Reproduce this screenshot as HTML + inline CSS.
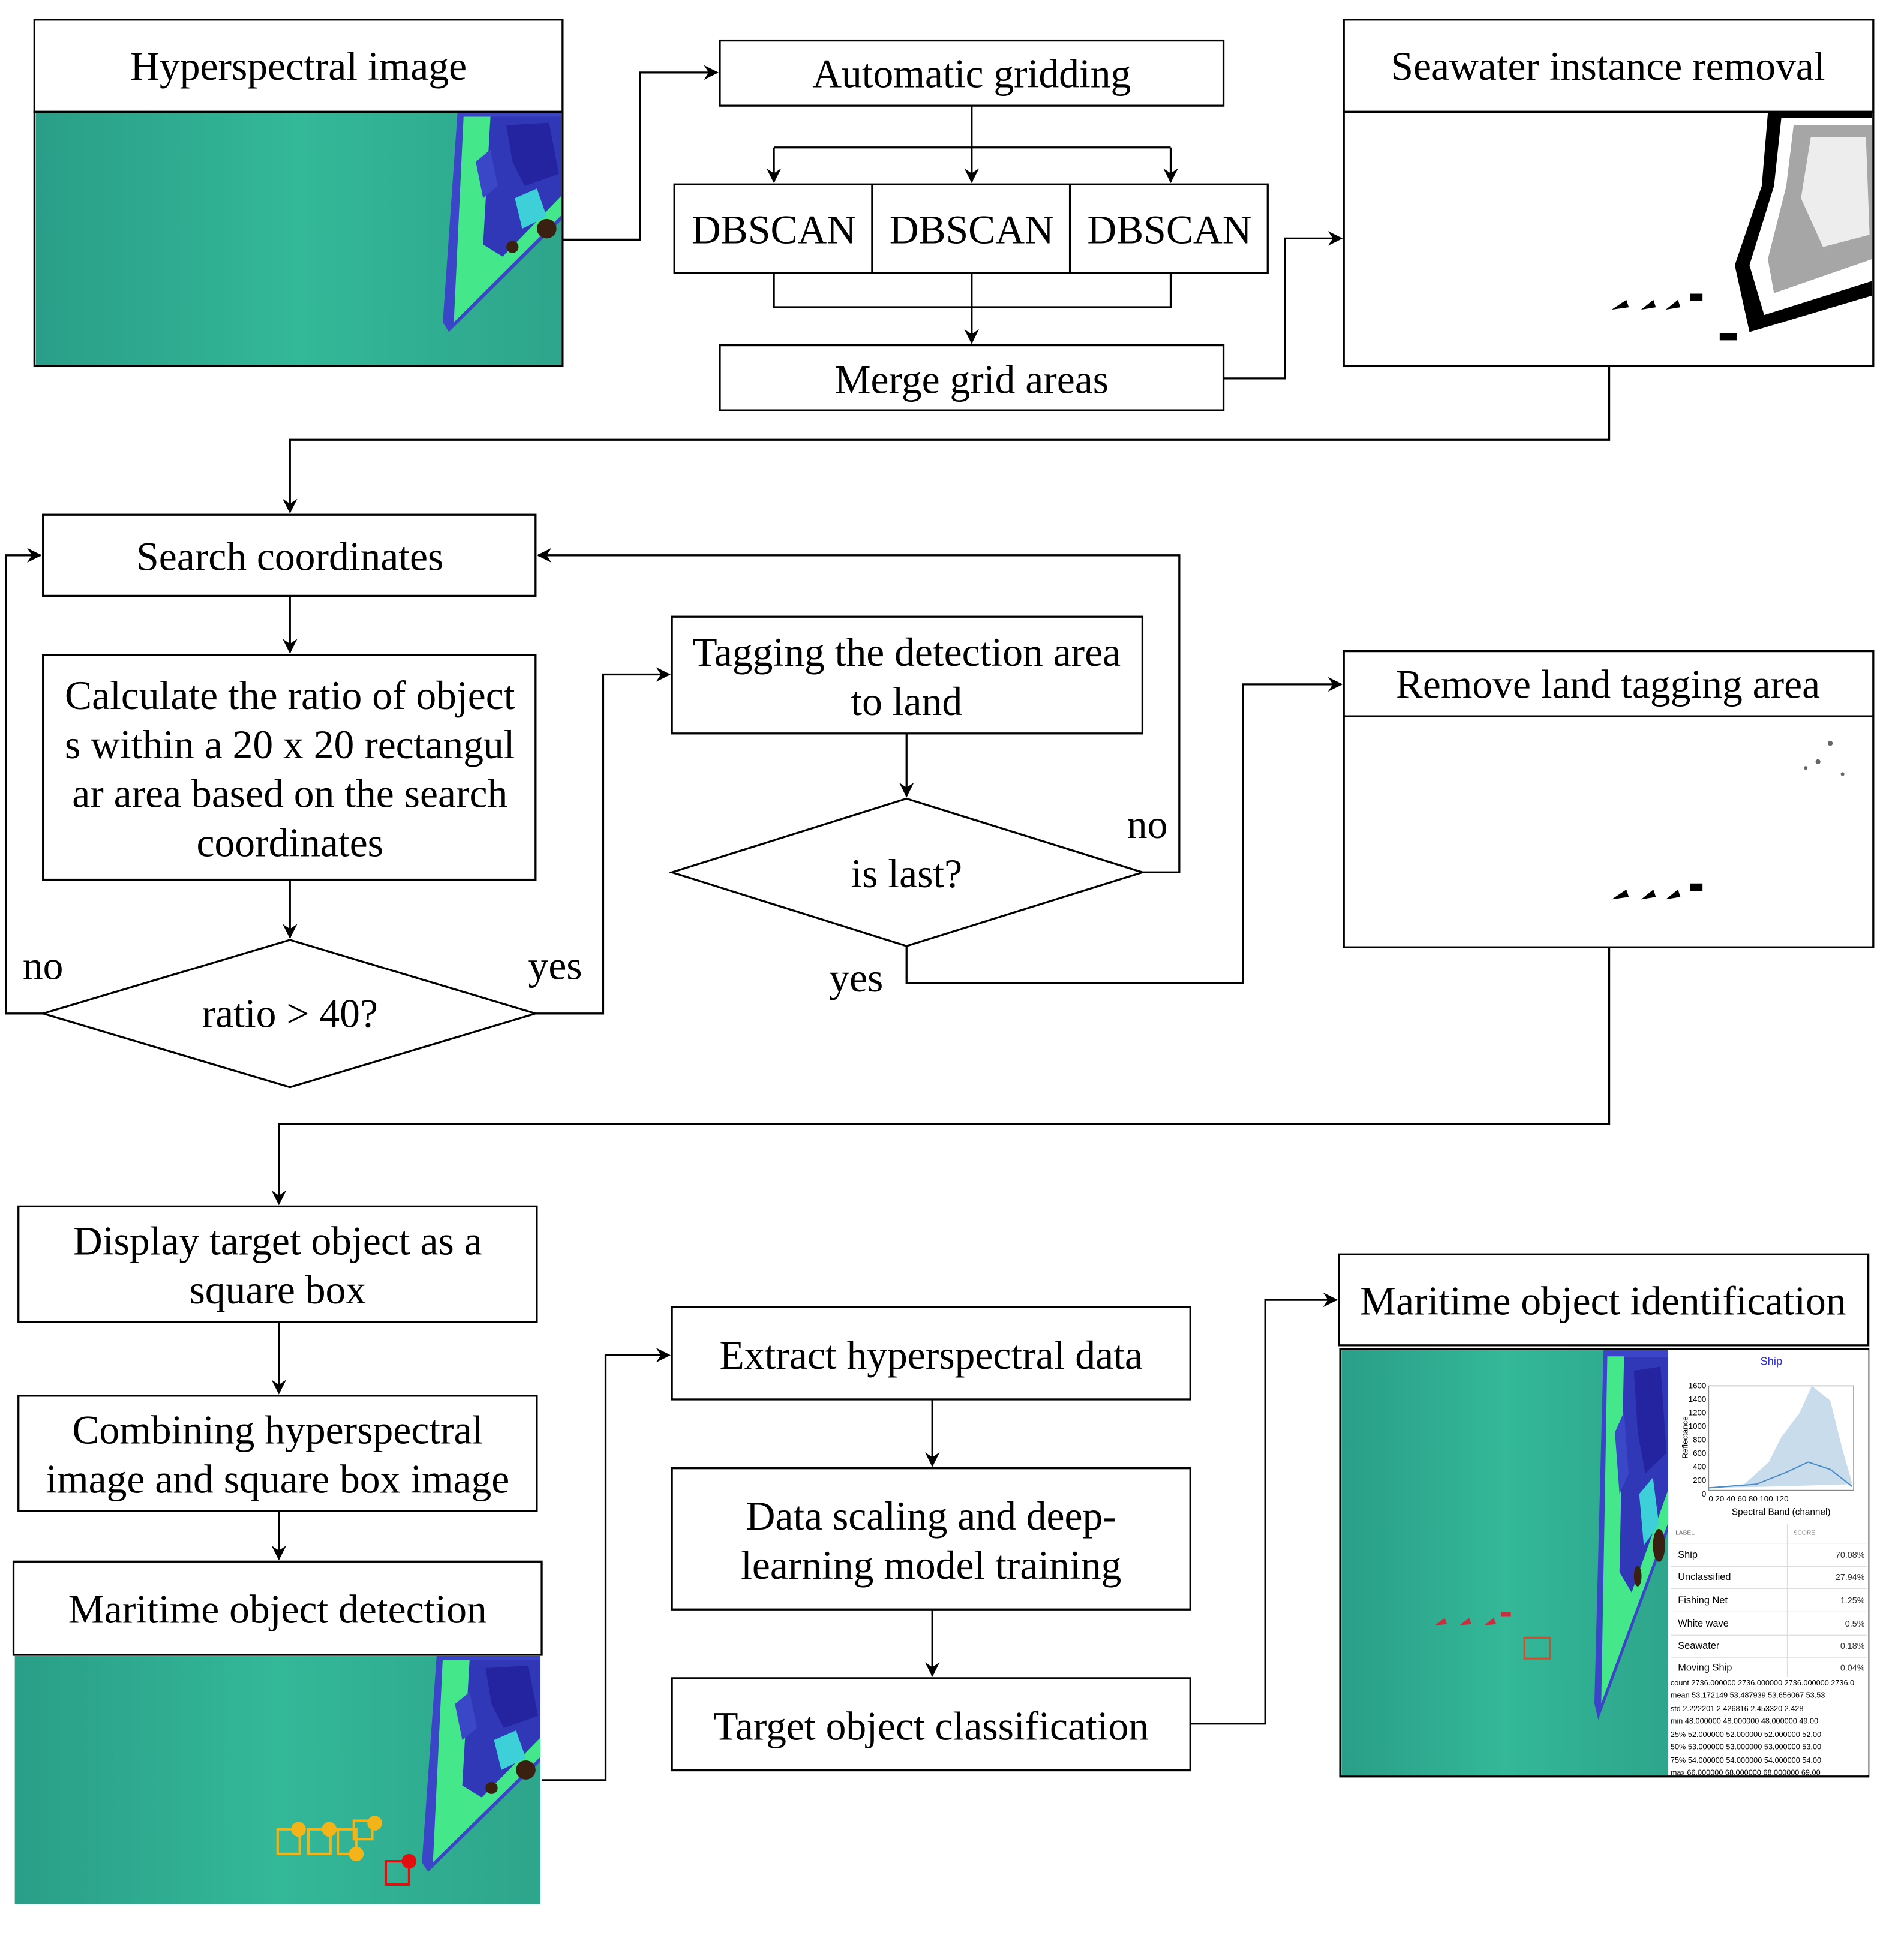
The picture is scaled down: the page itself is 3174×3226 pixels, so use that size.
<!DOCTYPE html>
<html><head><meta charset="utf-8"><style>html,body{margin:0;padding:0;background:#fff}svg{display:block}</style></head>
<body>
<svg width="3174" height="3226" viewBox="0 0 1550 1575" preserveAspectRatio="none" xmlns="http://www.w3.org/2000/svg" font-family="'Liberation Serif', serif" font-size="33">
<defs>
<marker id="a" viewBox="0 0 12 12" refX="11" refY="6" markerWidth="12" markerHeight="12" markerUnits="userSpaceOnUse" orient="auto">
<path d="M0,0 L12,6 L0,12 L4,6 Z" fill="#000"/></marker>
<linearGradient id="sea" x1="0" x2="1" y1="0" y2="0"><stop offset="0" stop-color="#2a9e88"/><stop offset="0.5" stop-color="#33b898"/><stop offset="1" stop-color="#2ea58c"/></linearGradient>
<symbol id="img" viewBox="0 0 430 207" preserveAspectRatio="none">
<rect width="430" height="207" fill="url(#sea)"/>
<polygon points="345,0 430,0 430,88 338,180 333,172" fill="#3b45c8"/>
<polygon points="350,3 430,3 430,84 342,172" fill="#44e88a"/>
<polygon points="372,3 430,3 430,68 382,118 366,108" fill="#3038b8"/>
<polygon points="385,10 420,8 428,50 400,60 390,40" fill="#2424a0"/>
<polygon points="392,70 410,62 418,85 398,95" fill="#3ed0d8"/>
<polygon points="360,40 372,30 378,60 366,70" fill="#3a48c8"/>
<circle cx="418" cy="95" r="8" fill="#3a2010"/>
<circle cx="390" cy="110" r="5" fill="#3a2010"/>
</symbol>
<symbol id="bw" viewBox="0 0 430 207" preserveAspectRatio="none">
<rect width="430" height="207" fill="#fff"/>
<polygon points="345,0 430,0 430,150 330,180 318,125 340,60" fill="#000"/>
<polygon points="356,4 430,4 430,138 342,166 330,125 350,60" fill="#fff"/>
<polygon points="366,10 430,10 430,120 350,148 345,120 360,60" fill="#000" opacity="0.35"/>
<polygon points="380,20 425,20 428,100 390,110 372,70" fill="#fff" opacity="0.8"/>
</symbol>
</defs>
<g fill="none" stroke="#000" stroke-width="1.6">
<rect x="28" y="16" width="430" height="75" fill="#fff"/>
<rect x="28" y="91" width="430" height="207"/>
<rect x="586" y="33" width="410" height="53" fill="#fff"/>
<rect x="549" y="150" width="483" height="72"/>
<line x1="710" y1="150" x2="710" y2="222"/><line x1="871" y1="150" x2="871" y2="222"/>
<rect x="586" y="281" width="410" height="53"/>
<rect x="1094" y="16" width="431" height="75"/>
<rect x="1094" y="91" width="431" height="207"/>
<rect x="35" y="419" width="401" height="66"/>
<rect x="35" y="533" width="401" height="183"/>
<polygon points="35,825 236,765 436,825 236,885"/>
<rect x="547" y="502" width="383" height="95"/>
<polygon points="547,710 738,650 930,710 738,770"/>
<rect x="1094" y="530" width="431" height="53"/>
<rect x="1094" y="583" width="431" height="188"/>
<rect x="15" y="982" width="422" height="94"/>
<rect x="15" y="1136" width="422" height="94"/>
<rect x="11" y="1271" width="430" height="76"/>
<rect x="547" y="1064" width="422" height="75"/>
<rect x="547" y="1195" width="422" height="115"/>
<rect x="547" y="1366" width="422" height="75"/>
<rect x="1090" y="1021" width="431" height="74"/>
</g>
<use href="#img" x="29" y="92" width="428" height="205"/>
<use href="#bw" x="1095" y="92" width="429" height="205"/>
<g fill="#000"><path d="M1312,252 l12,-8 l2,6 z M1336,252 l10,-8 l2,6 z M1356,252 l10,-8 l2,6 z M1376,245 h10 v-6 h-10z M1400,277 h14 v-6 h-14z"/>
<path d="M1312,732 l12,-8 l2,6 z M1336,732 l10,-8 l2,6 z M1356,732 l10,-8 l2,6 z M1376,725 h10 v-6 h-10z"/></g>
<g fill="#000" opacity="0.6"><circle cx="1490" cy="605" r="2"/><circle cx="1480" cy="620" r="2"/><circle cx="1500" cy="630" r="1.5"/><circle cx="1470" cy="625" r="1.5"/></g>
<use href="#img" x="12" y="1348" width="428" height="202"/>
<g fill="none" stroke="#f2b418" stroke-width="2"><rect x="226" y="1489" width="18" height="20"/><rect x="251" y="1489" width="18" height="20"/><rect x="275" y="1489" width="15" height="20"/><rect x="288" y="1482" width="15" height="15"/></g>
<g fill="#f2b418"><circle cx="243" cy="1489" r="6"/><circle cx="268" cy="1489" r="6"/><circle cx="290" cy="1509" r="6"/><circle cx="305" cy="1484" r="6"/></g>
<rect x="314" y="1515" width="19" height="19" fill="none" stroke="#e01010" stroke-width="2"/><circle cx="333" cy="1515" r="6" fill="#e01010"/>
<rect x="1091" y="1098" width="430" height="348" fill="none" stroke="#000" stroke-width="1.6"/>
<use href="#img" x="1092" y="1099" width="266" height="346"/>
<rect x="1358" y="1099" width="163" height="346" fill="#fff"/>
<g fill="#c83040"><path d="M1168,1323 l8,-6 l2,5z M1188,1323 l8,-6 l2,5z M1208,1323 l8,-6 l2,5z M1222,1316 h8 v-4 h-8z"/></g>
<rect x="1241" y="1333" width="21" height="17" fill="none" stroke="#c85030" stroke-width="1.5"/>
<g font-family="'Liberation Sans', sans-serif" fill="#000">
<text x="1442" y="1111" font-size="9" fill="#3030d0" text-anchor="middle">Ship</text>
<rect x="1391" y="1128" width="118" height="85" fill="none" stroke="#888" stroke-width="0.7"/>
<path d="M1391,1211 L1420,1208 L1440,1190 L1450,1170 L1465,1150 L1475,1128 L1490,1140 L1500,1180 L1508,1208 L1440,1210 Z" fill="#c8dcec"/>
<path d="M1391,1211 L1430,1208 L1455,1198 L1472,1190 L1490,1196 L1508,1210" fill="none" stroke="#4a8ac8" stroke-width="1"/>
<g font-size="6.5" text-anchor="end"><text x="1389" y="1130">1600</text><text x="1389" y="1141">1400</text><text x="1389" y="1152">1200</text><text x="1389" y="1163">1000</text><text x="1389" y="1174">800</text><text x="1389" y="1185">600</text><text x="1389" y="1196">400</text><text x="1389" y="1207">200</text><text x="1389" y="1218">0</text></g>
<text x="1391" y="1222" font-size="6.5">0    20   40   60   80  100  120</text>
<text x="1450" y="1233" font-size="7.5" text-anchor="middle">Spectral Band (channel)</text>
<text x="1374" y="1170" font-size="6.5" transform="rotate(-90 1374 1170)" text-anchor="middle">Reflectance</text>
<text x="1364" y="1249" font-size="5" fill="#666">LABEL</text><text x="1460" y="1249" font-size="5" fill="#666">SCORE</text>
<g font-size="8"><text x="1366" y="1268">Ship</text><text x="1366" y="1286">Unclassified</text><text x="1366" y="1305">Fishing Net</text><text x="1366" y="1324">White wave</text><text x="1366" y="1342">Seawater</text><text x="1366" y="1360">Moving  Ship</text></g>
<g font-size="7" text-anchor="end" fill="#333"><text x="1518" y="1268">70.08%</text><text x="1518" y="1286">27.94%</text><text x="1518" y="1305">1.25%</text><text x="1518" y="1324">0.5%</text><text x="1518" y="1342">0.18%</text><text x="1518" y="1360">0.04%</text></g>
<g stroke="#ddd" stroke-width="0.6"><line x1="1360" y1="1256" x2="1520" y2="1256"/><line x1="1360" y1="1275" x2="1520" y2="1275"/><line x1="1360" y1="1293" x2="1520" y2="1293"/><line x1="1360" y1="1312" x2="1520" y2="1312"/><line x1="1360" y1="1331" x2="1520" y2="1331"/><line x1="1360" y1="1349" x2="1520" y2="1349"/><line x1="1455" y1="1240" x2="1455" y2="1365"/></g>
<g font-size="6.2"><text x="1360" y="1372">count 2736.000000 2736.000000 2736.000000 2736.0</text><text x="1360" y="1382">mean 53.172149    53.487939    53.656067    53.53</text><text x="1360" y="1393">std    2.222201     2.426816     2.453320     2.428</text><text x="1360" y="1403">min    48.000000    48.000000    48.000000    49.00</text><text x="1360" y="1414">25%   52.000000    52.000000    52.000000    52.00</text><text x="1360" y="1424">50%   53.000000    53.000000    53.000000    53.00</text><text x="1360" y="1435">75%   54.000000    54.000000    54.000000    54.00</text><text x="1360" y="1445">max   66.000000    68.000000    68.000000    69.00</text></g>
</g>
<g fill="none" stroke="#000" stroke-width="1.6">
<polyline points="458,195 521,195 521,59 584,59" marker-end="url(#a)"/>
<line x1="791" y1="86" x2="791" y2="148" marker-end="url(#a)"/>
<line x1="630" y1="120" x2="953" y2="120"/>
<line x1="630" y1="120" x2="630" y2="148" marker-end="url(#a)"/>
<line x1="953" y1="120" x2="953" y2="148" marker-end="url(#a)"/>
<polyline points="630,222 630,250 953,250 953,222"/>
<line x1="791" y1="222" x2="791" y2="279" marker-end="url(#a)"/>
<polyline points="996,308 1046,308 1046,194 1092,194" marker-end="url(#a)"/>
<polyline points="1310,298 1310,358 236,358 236,417" marker-end="url(#a)"/>
<line x1="236" y1="485" x2="236" y2="531" marker-end="url(#a)"/>
<line x1="236" y1="716" x2="236" y2="763" marker-end="url(#a)"/>
<polyline points="35,825 5,825 5,452 33,452" marker-end="url(#a)"/>
<polyline points="436,825 491,825 491,549 545,549" marker-end="url(#a)"/>
<line x1="738" y1="597" x2="738" y2="648" marker-end="url(#a)"/>
<polyline points="930,710 960,710 960,452 438,452" marker-end="url(#a)"/>
<polyline points="738,770 738,800 1012,800 1012,557 1092,557" marker-end="url(#a)"/>
<polyline points="1310,771 1310,915 227,915 227,980" marker-end="url(#a)"/>
<line x1="227" y1="1076" x2="227" y2="1134" marker-end="url(#a)"/>
<line x1="227" y1="1230" x2="227" y2="1269" marker-end="url(#a)"/>
<polyline points="441,1449 493,1449 493,1103 545,1103" marker-end="url(#a)"/>
<line x1="759" y1="1139" x2="759" y2="1193" marker-end="url(#a)"/>
<line x1="759" y1="1310" x2="759" y2="1364" marker-end="url(#a)"/>
<polyline points="969,1403 1030,1403 1030,1058 1088,1058" marker-end="url(#a)"/>
</g>
<g fill="#000" text-anchor="middle">
<text x="243" y="65">Hyperspectral image</text>
<text x="791" y="71">Automatic gridding</text>
<text x="630" y="198">DBSCAN</text><text x="791" y="198">DBSCAN</text><text x="952" y="198">DBSCAN</text>
<text x="791" y="320">Merge grid areas</text>
<text x="1309" y="65">Seawater instance removal</text>
<text x="236" y="464">Search coordinates</text>
<text x="236" y="577">Calculate the ratio of object</text>
<text x="236" y="617">s within a 20 x 20 rectangul</text>
<text x="236" y="657">ar area based on the search</text>
<text x="236" y="697">coordinates</text>
<text x="236" y="836">ratio &gt; 40?</text>
<text x="35" y="797">no</text>
<text x="452" y="797">yes</text>
<text x="738" y="542">Tagging the detection area</text>
<text x="738" y="582">to land</text>
<text x="738" y="722">is last?</text>
<text x="934" y="682">no</text>
<text x="697" y="807">yes</text>
<text x="1309" y="568">Remove land tagging area</text>
<text x="226" y="1021">Display target object as a</text>
<text x="226" y="1061">square box</text>
<text x="226" y="1175">Combining hyperspectral</text>
<text x="226" y="1215">image and square box image</text>
<text x="226" y="1321">Maritime object  detection</text>
<text x="758" y="1114">Extract hyperspectral data</text>
<text x="758" y="1245">Data scaling and deep-</text>
<text x="758" y="1285">learning model training</text>
<text x="758" y="1416">Target object classification</text>
<text x="1305" y="1070">Maritime object  identification</text>
</g>
</svg>
</body></html>
